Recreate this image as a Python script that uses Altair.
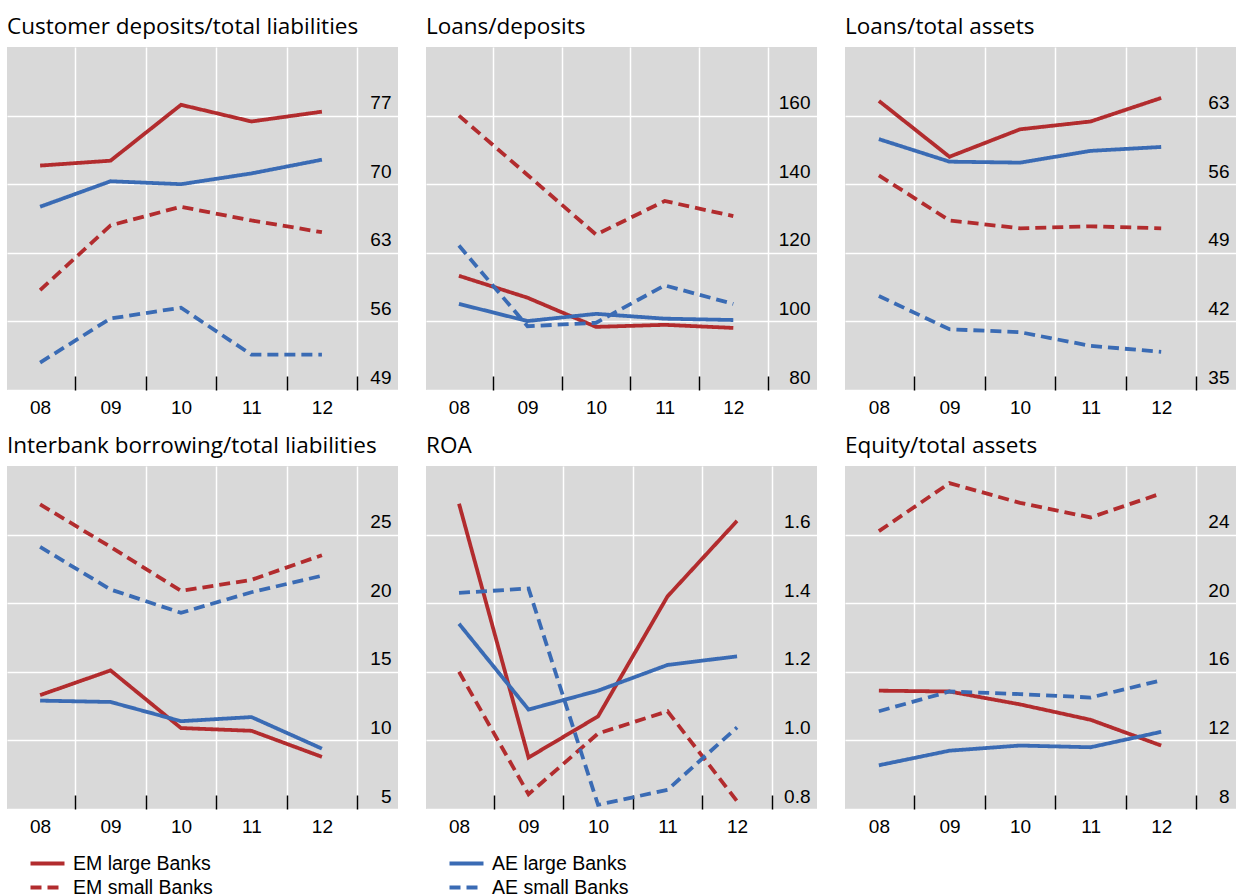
import altair as alt
import pandas as pd

# ---- data -------------------------------------------------------------
YEARS = [2008, 2009, 2010, 2011, 2012]
SERIES = ["EM large Banks", "EM small Banks", "AE large Banks", "AE small Banks"]

TITLES = [
    "Customer deposits/total liabilities",
    "Loans/deposits",
    "Loans/total assets",
    "Interbank borrowing/total liabilities",
    "ROA",
    "Equity/total assets",
]

# each panel: EM large, EM small, AE large, AE small
deposits_liab = [
    [71.9, 72.4, 78.1, 76.4, 77.4],
    [59.2, 65.8, 67.7, 66.3, 65.1],
    [67.7, 70.3, 70.0, 71.1, 72.5],
    [51.8, 56.3, 57.4, 52.6, 52.6],
]
loans_deposits = [
    [113.3, 106.9, 98.4, 99.0, 98.1],
    [160.0, 142.7, 125.3, 135.1, 130.7],
    [105.1, 100.1, 102.2, 100.8, 100.4],
    [122.1, 98.6, 99.6, 110.5, 105.1],
]
loans_assets = [
    [64.5, 58.8, 61.6, 62.4, 64.8],
    [56.9, 52.3, 51.5, 51.7, 51.5],
    [60.6, 58.3, 58.2, 59.4, 59.8],
    [44.6, 41.2, 40.9, 39.5, 38.9],
]
interbank_liab = [
    [13.3, 15.1, 10.9, 10.7, 8.8],
    [27.2, 24.1, 20.9, 21.7, 23.5],
    [12.9, 12.8, 11.4, 11.7, 9.4],
    [24.1, 21.0, 19.3, 20.8, 22.0],
]
roa = [
    [1.69, 0.95, 1.07, 1.42, 1.64],
    [1.20, 0.843, 1.02, 1.085, 0.823],
    [1.34, 1.09, 1.145, 1.22, 1.245],
    [1.43, 1.443, 0.812, 0.856, 1.038],
]
equity_assets = [
    [14.9, 14.85, 14.1, 13.2, 11.7],
    [24.2, 27.0, 25.85, 25.0, 26.4],
    [10.55, 11.4, 11.7, 11.6, 12.5],
    [13.7, 14.85, 14.7, 14.5, 15.5],
]
PANEL_VALUES = [deposits_liab, loans_deposits, loans_assets,
                interbank_liab, roa, equity_assets]

Y_TICKS = [
    [49, 56, 63, 70, 77],
    [80, 100, 120, 140, 160],
    [35, 42, 49, 56, 63],
    [5, 10, 15, 20, 25],
    [0.8, 1.0, 1.2, 1.4, 1.6],
    [8, 12, 16, 20, 24],
]
Y_DOMAINS = [[49, 84], [80, 180], [35, 70], [5, 30], [0.8, 1.8], [8, 28]]
Y_FORMATS = ["d", "d", "d", "d", ".1f", "d"]

# ---- styling ----------------------------------------------------------
RED = "#B22C2E"
BLUE = "#3A6BB4"
COLORS = [RED, RED, BLUE, BLUE]
DASHES = [[1, 0], [11, 6], [1, 0], [11, 6]]
X_DOMAINS = [[2007.53, 2013.08], [2007.52, 2013.22], [2007.52, 2013.06],
             [2007.53, 2013.08], [2007.525, 2013.15], [2007.52, 2013.06]]
X_VALUES = [2008, 2008.5, 2009, 2009.5, 2010, 2010.5, 2011, 2011.5, 2012, 2012.5]
W, H = 391, 343
LABEL_FONT = "Liberation Sans"
LABEL_SIZE = 19


def panel(i):
    rows = []
    for s, vals in zip(SERIES, PANEL_VALUES[i]):
        for yr, v in zip(YEARS, vals):
            rows.append({"year": yr, "value": v, "series": s})
    df = pd.DataFrame(rows)

    x_axis = alt.Axis(
        values=X_VALUES,
        title=None,
        domain=False,
        grid=True,
        gridColor="white",
        gridWidth=1.5,
        gridOpacity={"condition": {"test": "datum.value % 1 !== 0", "value": 1}, "value": 0},
        tickOpacity={"condition": {"test": "datum.value % 1 === 0", "value": 0}, "value": 1},
        tickColor="black",
        tickSize=14,
        tickWidth=1.5,
        offset=-14,
        labelExpr="datum.value % 1 === 0 ? slice(toString(datum.value), 2) : ''",
        labelBaseline="alphabetic",
        labelPadding=23,
        labelFlush=False,
        labelOverlap=False,
        labelFont=LABEL_FONT,
        labelFontSize=LABEL_SIZE,
        labelColor="black",
    )
    y_axis = alt.Axis(
        orient="right",
        values=Y_TICKS[i],
        format=Y_FORMATS[i],
        title=None,
        domain=False,
        grid=True,
        gridColor="white",
        gridWidth=1.5,
        ticks=False,
        tickSize=0,
        offset=-7,
        labelAlign="right",
        labelBaseline="alphabetic",
        labelOffset=-7,
        labelPadding=0,
        labelFlush=False,
        labelOverlap=False,
        labelFont=LABEL_FONT,
        labelFontSize=LABEL_SIZE,
        labelColor="black",
    )
    return (
        alt.Chart(df, title=alt.Title(TITLES[i]))
        .mark_line(strokeWidth=3.8, clip=True)
        .encode(
            x=alt.X("year:Q", scale=alt.Scale(domain=X_DOMAINS[i], nice=False, zero=False), axis=x_axis),
            y=alt.Y("value:Q", scale=alt.Scale(domain=Y_DOMAINS[i], nice=False, zero=False), axis=y_axis),
            color=alt.Color("series:N", scale=alt.Scale(domain=SERIES, range=COLORS), title=None),
            strokeDash=alt.StrokeDash("series:N", scale=alt.Scale(domain=SERIES, range=DASHES), title=None),
        )
        .properties(width=W, height=H)
    )


top = alt.hconcat(panel(0), panel(1), panel(2), spacing=28)
bottom = alt.hconcat(panel(3), panel(4), panel(5), spacing=28)

chart = (
    alt.vconcat(top, bottom, spacing=17)
    .properties(padding={"left": 7, "top": 15, "right": 0, "bottom": 0})
    .configure_view(fill="#D9D9D9", stroke=None)
    .configure_title(
        font="Open Sans",
        fontSize=22.5,
        fontWeight="normal",
        color="black",
        anchor="start",
        baseline="alphabetic",
        offset=9,
    )
    .configure_legend(
        orient="none",
        legendX=30,
        legendY=806,
        columns=2,
        direction="vertical",
        symbolType="M-2,0H2",
        symbolSize=289,
        symbolStrokeWidth=3.8,
        symbolFillColor="transparent",
        labelFont=LABEL_FONT,
        labelFontSize=19.5,
        labelColor="black",
        labelOffset=15,
        labelLimit=300,
        columnPadding=228,
        rowPadding=4,
        title=None,
    )
)

chart.save("out.html", embed_options={"renderer": "svg", "actions": False})
